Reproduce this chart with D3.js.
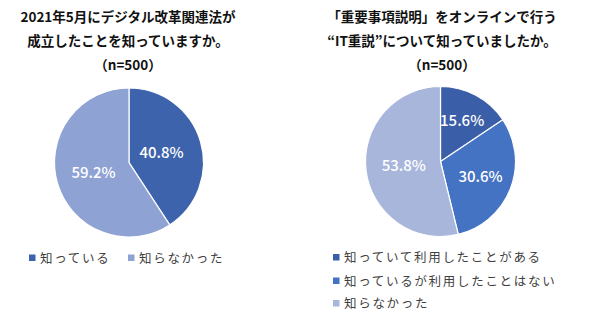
<!DOCTYPE html>
<html><head><meta charset="utf-8">
<script src="https://cdn.jsdelivr.net/npm/d3@7"></script>
<style>
body{margin:0;background:#fff;}
svg{display:block;font-family:"Noto Sans CJK JP","Noto Sans",sans-serif;}
</style></head>
<body>
<svg id="chart" width="600" height="325"></svg>
<script>
// Left chart data
const leftTitle = ["2021年5月にデジタル改革関連法が", "成立したことを知っていますか。", "（n=500）"];
const leftCategories = ["知っている", "知らなかった"];
const leftValues = [40.8, 59.2];
const leftColors = ["#3d63ad", "#8ea2d4"];

// Right chart data
const rightTitle = ["「重要事項説明」をオンラインで行う", "“IT重説”について知っていましたか。", "（n=500）"];
const rightCategories = ["知っていて利用したことがある", "知っているが利用したことはない", "知らなかった"];
const rightValues = [15.6, 30.6, 53.8];
const rightColors = ["#3a5ea8", "#4573c4", "#a8b6dc"];

const svg = d3.select("#chart");

function drawPie(cfg) {
  const g = svg.append("g");
  // titles
  g.selectAll("text.title").data(cfg.title).enter().append("text")
    .attr("x", cfg.titleX)
    .attr("y", (d, i) => cfg.titleY + i * 24)
    .attr("text-anchor", "middle")
    .attr("font-size", 13.5)
    .attr("font-weight", "bold")
    .attr("fill", "#111")
    .text(d => d);

  const pie = d3.pie().sort(null).value(d => d);
  const arcs = pie(cfg.values);
  const arc = d3.arc().innerRadius(0).outerRadius(cfg.r);
  const pg = g.append("g").attr("transform", `translate(${cfg.cx},${cfg.cy})`);
  pg.selectAll("path").data(arcs).enter().append("path")
    .attr("d", arc)
    .attr("fill", (d, i) => cfg.colors[i])
    .attr("stroke", "#fff")
    .attr("stroke-width", 1.2);
  pg.selectAll("text").data(arcs).enter().append("text")
    .attr("transform", (d, i) => {
      const a = (d.startAngle + d.endAngle) / 2;
      const lr = cfg.labelR[i];
      return `translate(${lr * Math.sin(a)},${-lr * Math.cos(a)})`;
    })
    .attr("text-anchor", "middle")
    .attr("dy", "0.36em")
    .attr("font-size", 15)
    .attr("font-weight", 500)
    .attr("fill", "#fff")
    .text(d => d.data.toFixed(1) + "%");

  // legend
  const lg = g.append("g");
  const items = lg.selectAll("g").data(cfg.categories).enter().append("g")
    .attr("transform", (d, i) => `translate(${cfg.legendPos[i][0]},${cfg.legendPos[i][1]})`);
  items.append("rect")
    .attr("x", 0).attr("y", -3.5).attr("width", 6.5).attr("height", 6.5)
    .attr("fill", (d, i) => cfg.colors[i]);
  items.append("text")
    .attr("x", 11).attr("dy", "0.36em")
    .attr("font-size", 12.5)
    .attr("letter-spacing", 1.7)
    .attr("fill", "#404040")
    .text(d => d);
}

drawPie({
  title: leftTitle, titleX: 128, titleY: 21.5,
  values: leftValues, colors: leftColors, categories: leftCategories,
  cx: 129, cy: 162.5, r: 74.5,
  labelR: [34, 37],
  legendPos: [[29, 258], [128, 258]]
});

drawPie({
  title: rightTitle, titleX: 442, titleY: 21.5,
  values: rightValues, colors: rightColors, categories: rightCategories,
  cx: 440.5, cy: 161.5, r: 75,
  labelR: [46, 43, 37],
  legendPos: [[333, 257.5], [333, 281], [333, 303.5]]
});
</script>
</body></html>
